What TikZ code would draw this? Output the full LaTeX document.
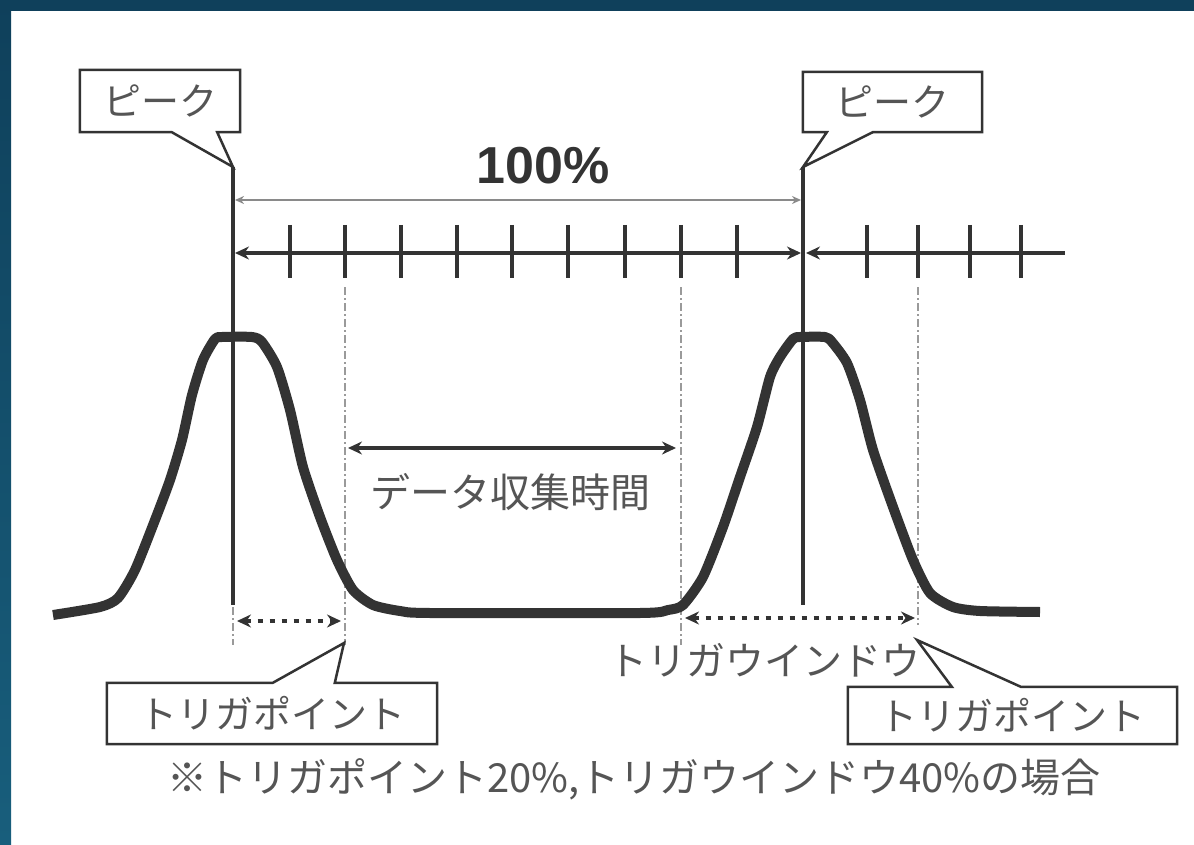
\documentclass[tikz,border=0pt]{standalone}
\usepackage{fontspec}
\newfontfamily\jpfont{Noto Sans CJK JP}
\newfontfamily\numfont{Liberation Sans}
\usetikzlibrary{arrows.meta,calc}
\definecolor{ink}{HTML}{333333}
\definecolor{txt}{HTML}{555555}
\definecolor{bordtop}{HTML}{0F405B}
\definecolor{bordbot}{HTML}{185E7C}
\definecolor{dimgray}{HTML}{8A8A8A}
\definecolor{dashgray}{HTML}{9A9A9A}
\begin{document}
\begin{tikzpicture}[x=1pt,y=-1pt,
  jp/.style={font=\jpfont\fontsize{38}{40}\selectfont, text=txt, inner sep=0pt},
  jpbig/.style={font=\jpfont\fontsize{40}{42}\selectfont, text=txt, inner sep=0pt},
  callout/.style={draw=ink, line width=2.5pt, line join=miter},
  peakline/.style={draw=ink, line width=3.8pt},
  tickmark/.style={draw=ink, line width=3.5pt},
  axisline/.style={draw=ink, line width=4pt},
  guide/.style={draw=dashgray, line width=2pt, dash pattern=on 8pt off 3pt on 2pt off 3pt},
  bigtip/.tip={Stealth[length=14pt,width=13pt]},
  smalltip/.tip={Stealth[length=9pt,width=8pt]},
  dotarrow/.style={draw=ink, line width=4pt, dash pattern=on 5pt off 7pt, bigtip-bigtip},
  wave/.style={draw=ink, line width=10pt, line join=round, line cap=butt}
]
\useasboundingbox (0,0) rectangle (1194,845);
% frame
\fill[white] (0,0) rectangle (1194,845);
\fill[bordtop] (0,0) rectangle (1194,11);
\shade[top color=bordtop, bottom color=bordbot] (0,0) rectangle (11,845);

% key coordinates
\coordinate (topL) at (233,167);
\coordinate (botL) at (233,605);
\coordinate (topR) at (803,167);
\coordinate (botR) at (803,605);
\coordinate (gL1) at (233,607);  \coordinate (gL2) at (233,645);
\coordinate (gA1) at (345,287);  \coordinate (gA2) at (345,645);
\coordinate (gB1) at (681,287);  \coordinate (gB2) at (681,645);
\coordinate (gC1) at (918,287);  \coordinate (gC2) at (918,625);
\coordinate (trigA) at (344,643);
\coordinate (trigC) at (917,640);

% peak vertical lines
\draw[peakline] (topL) -- (botL);
\draw[peakline] (topR) -- (botR);

% guide lines
\draw[guide] (gL1) -- (gL2);
\draw[guide] (gA1) -- (gA2);
\draw[guide] (gB1) -- (gB2);
\draw[guide] (gC1) -- (gC2);

% 100% dimension
\coordinate (dimL) at (235,200);
\coordinate (dimR) at (801,200);
\draw[draw=dimgray, line width=2.2pt, smalltip-smalltip] (dimL) -- (dimR);
\node[font=\numfont\bfseries\fontsize{52}{52}\selectfont, text=ink, inner sep=0pt] (pct) at (543,166) {100\%};

% tick axis
\coordinate (axL) at (235,253);
\coordinate (axM1) at (801,253);
\coordinate (axM2) at (806,253);
\coordinate (axR) at (1065,253);
\draw[axisline, bigtip-bigtip] (axL) -- (axM1);
\draw[axisline, bigtip-] (axM2) -- (axR);
\foreach \x in {290,345,401,457,512,568,625,681,737,867,918,970,1021}
  \draw[tickmark] (\x,225) -- (\x,278);

% waveform
\draw[wave] plot[smooth, tension=0.4] coordinates {
(53,615) (100,607) (118,598) (135,570) (155,520) (170,480) (182,440) (192,395) (203,360) (215,339) (222,337) (252,337) (262,342) (277,367) (290,410) (303,467) (320,517) (337,560) (353,590) (373,605) (400,611) (430,613) (640,613) (668,610) (683,605) (703,577) (723,527) (740,477) (757,427) (770,377) (780,357) (793,339) (800,337) (825,337) (832,342) (847,363) (860,400) (873,450) (893,507) (913,560) (930,593) (953,607) (980,611) (1040,612)};

% data collection time
\coordinate (dcL) at (348,448);
\coordinate (dcR) at (676,448);
\draw[draw=ink, line width=3.5pt, bigtip-bigtip] (dcL) -- (dcR);
\node[jpbig] (dlabel) at (510,492) {データ収集時間};

% trigger point / window dotted arrows
\coordinate (tpL) at (237,621);
\coordinate (tpR) at (341,621);
\draw[dotarrow] (tpL) -- (tpR);
\coordinate (twL) at (685,618);
\coordinate (twR) at (915,618);
\draw[dotarrow] (twL) -- (twR);
\node[jp, font=\jpfont\fontsize{39}{40}\selectfont] (twlabel) at (764,660) {トリガウインドウ};

% peak callouts
\node[jp, minimum width=160pt, minimum height=62pt] (pk1) at (160,101) {ピーク};
\draw[callout] ([xshift=-23pt]pk1.south east) -- (pk1.south east) -- (pk1.north east) -- (pk1.north west) -- (pk1.south west) -- ([xshift=92pt]pk1.south west) -- (topL) -- cycle;
\node[jp, minimum width=179pt, minimum height=60pt] (pk2) at (892.5,102) {ピーク};
\draw[callout] ([xshift=24pt]pk2.south west) -- (pk2.south west) -- (pk2.north west) -- (pk2.north east) -- (pk2.south east) -- ([xshift=70pt]pk2.south west) -- (topR) -- cycle;

% trigger point callouts
\node[jp, minimum width=330pt, minimum height=61pt] (tb1) at (272,713.5) {トリガポイント};
\draw[callout] ([xshift=166pt]tb1.north west) -- (tb1.north west) -- (tb1.south west) -- (tb1.south east) -- (tb1.north east) -- ([xshift=228pt]tb1.north west) -- (trigA) -- cycle;
\node[jp, minimum width=329pt, minimum height=57pt] (tb2) at (1012.5,715.5) {トリガポイント};
\draw[callout] ([xshift=104pt]tb2.north west) -- (tb2.north west) -- (tb2.south west) -- (tb2.south east) -- (tb2.north east) -- ([xshift=173pt]tb2.north west) -- (trigC) -- cycle;

% caption
\node[jpbig] (note) at (634,779) {※トリガポイント20\%,トリガウインドウ40\%の場合};
\end{tikzpicture}
\end{document}
